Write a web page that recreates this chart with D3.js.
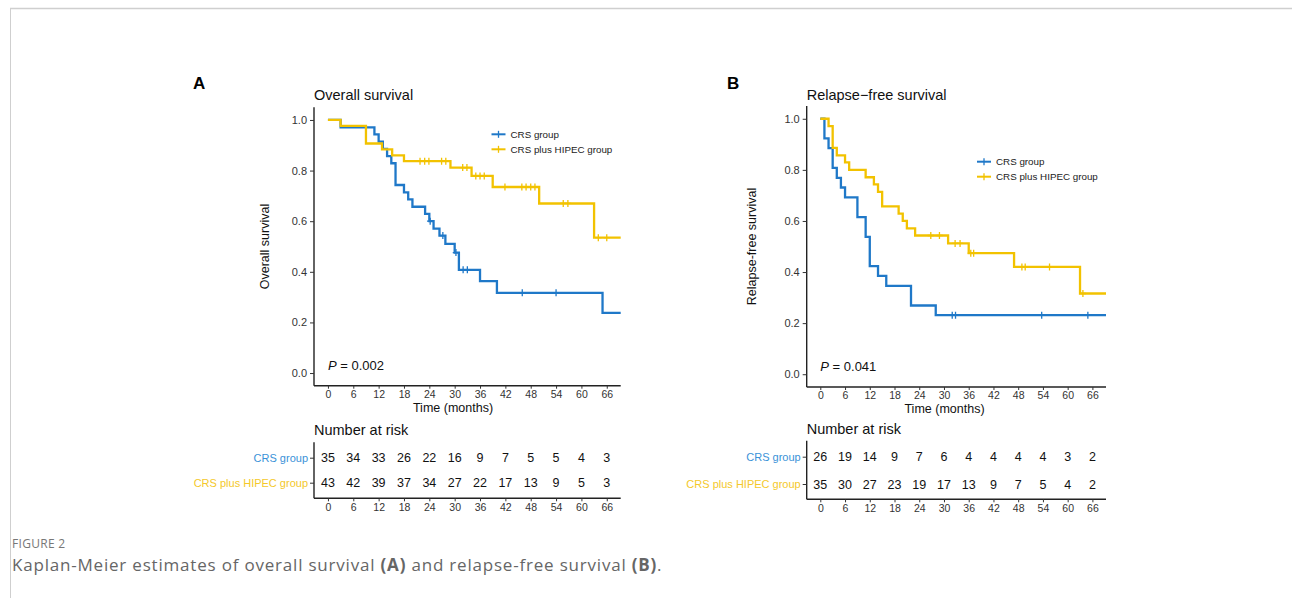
<!DOCTYPE html>
<html>
<head>
<meta charset="utf-8">
<script src="https://cdn.jsdelivr.net/npm/d3@7"></script>
<style>
  html, body { margin: 0; padding: 0; background: #fff; }
  svg { display: block; }
</style>
</head>
<body>
<svg id="chart" width="1292" height="598"></svg>
<script>
// ---------------- DATA ----------------
const timeTicks = [0, 6, 12, 18, 24, 30, 36, 42, 48, 54, 60, 66];
const survTicks = [0.0, 0.2, 0.4, 0.6, 0.8, 1.0];
const groupNames = ["CRS group", "CRS plus HIPEC group"];

// Panel A: overall survival
const osCrsTime = [0, 3, 11, 12, 13, 14, 15, 16, 18, 19, 20, 23, 24, 25, 26.4, 27.8, 30, 31, 36, 40, 65];
const osCrsSurv = [1.0, 0.971, 0.943, 0.914, 0.886, 0.857, 0.829, 0.743, 0.714, 0.686, 0.657, 0.629, 0.600, 0.571, 0.543, 0.510, 0.476, 0.408, 0.363, 0.317, 0.238];
const osCrsCensor = [24.2, 27.2, 30.3, 32, 33, 46, 54];

const osHipecTime = [0, 3, 9, 12.8, 15.2, 18, 29, 34, 39, 50, 63];
const osHipecSurv = [1.0, 0.977, 0.907, 0.884, 0.860, 0.837, 0.812, 0.779, 0.735, 0.670, 0.535];
const osHipecCensor = [21.8, 22.9, 23.9, 26.9, 27.9, 31.9, 32.9, 35, 36, 37, 41.9, 45.9, 46.9, 48, 49, 55.7, 56.8, 64, 66];

const osRiskCrs = [35, 34, 33, 26, 22, 16, 9, 7, 5, 5, 4, 3];
const osRiskHipec = [43, 42, 39, 37, 34, 27, 22, 17, 13, 9, 5, 3];

// Panel B: relapse-free survival
const rfsCrsTime = [0, 1, 2, 3, 4, 5, 6, 9, 11, 12, 14, 16, 22, 28];
const rfsCrsSurv = [1.0, 0.923, 0.885, 0.808, 0.769, 0.731, 0.692, 0.615, 0.538, 0.423, 0.385, 0.346, 0.269, 0.231];
const rfsCrsCensor = [32, 32.8, 53.7, 64.9];

const rfsHipecTime = [0, 2, 3, 4, 6, 7, 11, 13, 14, 15, 19, 20, 21, 23, 31, 36, 47, 63];
const rfsHipecSurv = [1.0, 0.971, 0.886, 0.857, 0.829, 0.800, 0.771, 0.743, 0.714, 0.657, 0.629, 0.600, 0.571, 0.543, 0.512, 0.474, 0.420, 0.316];
const rfsHipecCensor = [26.8, 28.9, 32.7, 33.9, 36.5, 37.2, 48.9, 49.7, 55.6, 63.7];

const rfsRiskCrs = [26, 19, 14, 9, 7, 6, 4, 4, 4, 4, 3, 2];
const rfsRiskHipec = [35, 30, 27, 23, 19, 17, 13, 9, 7, 5, 4, 2];

// ---------------- STYLE ----------------
const colors = ["#1f78c8", "#f2c200"];
const labelColors = ["#3a92d8", "#f4c82a"];
const FONT = "'Liberation Sans', Arial, sans-serif";
const xDomain = [-3.3, 69.3];
const yDomain = [-0.05, 1.05];

const svg = d3.select("#chart");

// frame
svg.append("line").attr("x1", 10).attr("x2", 1292).attr("y1", 8.5).attr("y2", 8.5)
  .attr("stroke", "#cfcfcf").attr("stroke-width", 1.5);
svg.append("line").attr("x1", 10.5).attr("x2", 10.5).attr("y1", 8).attr("y2", 598)
  .attr("stroke", "#cfcfcf").attr("stroke-width", 1);

function survAt(times, survs, t) {
  let s = survs[0];
  for (let i = 0; i < times.length; i++) { if (times[i] <= t) s = survs[i]; }
  return s;
}

function drawPanel(cfg) {
  const g = svg.append("g").attr("font-family", FONT);
  const x = d3.scaleLinear().domain(xDomain).range([cfg.left, cfg.right]);
  const y = d3.scaleLinear().domain(yDomain).range([cfg.bottom, cfg.top]);

  // panel letter
  g.append("text").attr("x", cfg.letterX).attr("y", 89).text(cfg.letter)
    .attr("font-size", 17).attr("font-weight", "bold").attr("fill", "#000");
  // title
  g.append("text").attr("x", cfg.left).attr("y", 100).text(cfg.title)
    .attr("font-size", 14.5).attr("fill", "#111");

  // curves
  const line = d3.line().x(d => x(d[0])).y(d => y(d[1])).curve(d3.curveStepAfter);
  cfg.series.forEach((s, i) => {
    const pts = s.time.map((t, k) => [t, s.surv[k]]);
    pts.push([xDomain[1], s.surv[s.surv.length - 1]]);
    g.append("path").datum(pts).attr("d", line).attr("fill", "none")
      .attr("stroke", colors[i]).attr("stroke-width", 2.3).attr("stroke-linejoin", "miter");
    s.censor.forEach(c => {
      const cx = x(c), cy = y(survAt(s.time, s.surv, c));
      g.append("path").attr("d", `M${cx - 3.2},${cy}H${cx + 3.2}M${cx},${cy - 3.5}V${cy + 3.5}`)
        .attr("stroke", colors[i]).attr("stroke-width", 1.3);
    });
  });

  // axes
  const yAxis = d3.axisLeft(y).tickValues(survTicks).tickFormat(d3.format(".1f")).tickSize(4).tickPadding(3);
  const ya = g.append("g").attr("transform", `translate(${cfg.left},0)`).call(yAxis);
  const xAxis = d3.axisBottom(x).tickValues(timeTicks).tickSize(3).tickPadding(1.5);
  const xa = g.append("g").attr("transform", `translate(0,${cfg.bottom})`).call(xAxis);
  [ya, xa].forEach(a => {
    a.select(".domain").attr("stroke", "#222").attr("stroke-width", 1.4)
      .attr("d", a === ya ? `M0,${cfg.top}V${cfg.bottom}` : `M${cfg.left},0H${cfg.right}`);
    a.selectAll(".tick line").attr("stroke", "#333");
    a.selectAll(".tick text").attr("font-size", 11).attr("fill", "#333").attr("font-family", FONT);
  });
  xa.selectAll(".tick text").attr("font-size", 10.5);

  // axis titles
  g.append("text").attr("x", cfg.xTitleX).attr("y", cfg.bottom + 26).attr("text-anchor", "middle")
    .attr("font-size", 12.5).attr("fill", "#111").text("Time (months)");
  g.append("text").attr("transform", `translate(${cfg.yTitleX},${(cfg.top + cfg.bottom) / 2}) rotate(-90)`)
    .attr("text-anchor", "middle").attr("font-size", 12.5).attr("fill", "#111").text(cfg.yTitle);

  // p-value
  const pt = g.append("text").attr("x", x(0)).attr("y", y(0) - 3.5)
    .attr("font-size", 13).attr("fill", "#111");
  pt.append("tspan").attr("font-style", "italic").text("P");
  pt.append("tspan").text(" = " + cfg.p);

  // legend
  groupNames.forEach((n, i) => {
    const ly = cfg.legendY + i * 15;
    g.append("line").attr("x1", cfg.legendX).attr("x2", cfg.legendX + 14).attr("y1", ly).attr("y2", ly)
      .attr("stroke", colors[i]).attr("stroke-width", 2);
    g.append("path").attr("d", `M${cfg.legendX + 7},${ly - 3.5}V${ly + 3.5}`)
      .attr("stroke", colors[i]).attr("stroke-width", 1.3);
    g.append("text").attr("x", cfg.legendX + 19).attr("y", ly + 3.5).attr("font-size", 9.8)
      .attr("fill", "#222").text(n);
  });

  // risk table
  const rt = cfg.risk;
  g.append("text").attr("x", cfg.left).attr("y", rt.titleY + 5).attr("font-size", 14.5)
    .attr("fill", "#111").text("Number at risk");
  const ry = d3.scalePoint().domain(groupNames).range([rt.row1, rt.row2]);
  const ra = g.append("g").attr("transform", `translate(${cfg.left},0)`)
    .call(d3.axisLeft(ry).tickSize(4).tickPadding(2));
  ra.select(".domain").attr("stroke", "#222").attr("stroke-width", 1.4).attr("d", `M0,${rt.top}V${rt.bottom}`);
  ra.selectAll(".tick line").attr("stroke", "#333");
  ra.selectAll(".tick text").attr("font-size", 11).attr("font-family", FONT)
    .attr("fill", (d, i) => labelColors[i]);
  const rxa = g.append("g").attr("transform", `translate(0,${rt.bottom})`)
    .call(d3.axisBottom(x).tickValues(timeTicks).tickSize(3).tickPadding(2.5));
  rxa.select(".domain").attr("stroke", "#222").attr("stroke-width", 1.4).attr("d", `M${cfg.left},0H${cfg.right}`);
  rxa.selectAll(".tick line").attr("stroke", "#333");
  rxa.selectAll(".tick text").attr("font-size", 10.5).attr("fill", "#333").attr("font-family", FONT);
  rt.values.forEach((vals, i) => {
    g.append("g").selectAll("text").data(vals).join("text")
      .attr("x", (d, k) => x(timeTicks[k])).attr("y", ry(groupNames[i]) + 4.5)
      .attr("text-anchor", "middle").attr("font-size", 12.5).attr("fill", "#111").text(d => d);
  });
}

drawPanel({
  letter: "A", letterX: 193, title: "Overall survival", yTitle: "Overall survival",
  left: 314, right: 620.7, top: 107.3, bottom: 385.7,
  xTitleX: 453, yTitleX: 269, p: "0.002", legendX: 491.5, legendY: 134.3,
  series: [
    { time: osCrsTime, surv: osCrsSurv, censor: osCrsCensor },
    { time: osHipecTime, surv: osHipecSurv, censor: osHipecCensor }
  ],
  risk: { titleY: 430, top: 442.3, bottom: 498.3, row1: 457.7, row2: 482.7, values: [osRiskCrs, osRiskHipec] }
});

drawPanel({
  letter: "B", letterX: 727, title: "Relapse\u2212free survival", yTitle: "Relapse-free survival",
  left: 806.7, right: 1106, top: 106, bottom: 387,
  xTitleX: 944.5, yTitleX: 756, p: "0.041", legendX: 977, legendY: 161.7,
  series: [
    { time: rfsCrsTime, surv: rfsCrsSurv, censor: rfsCrsCensor },
    { time: rfsHipecTime, surv: rfsHipecSurv, censor: rfsHipecCensor }
  ],
  risk: { titleY: 428.5, top: 440.7, bottom: 499.3, row1: 456.7, row2: 484, values: [rfsRiskCrs, rfsRiskHipec] }
});

// caption
const cap = svg.append("g").attr("font-family", "'Open Sans', 'Noto Sans', sans-serif");
cap.append("text").attr("x", 12).attr("y", 548).attr("font-size", 12).attr("fill", "#777")
  .attr("letter-spacing", 0.3).text("FIGURE 2");
const ct = cap.append("text").attr("x", 12).attr("y", 571).attr("font-size", 17).attr("fill", "#666")
  .attr("letter-spacing", 0.8);
ct.append("tspan").text("Kaplan-Meier estimates of overall survival ");
ct.append("tspan").attr("font-weight", "bold").text("(A)");
ct.append("tspan").text(" and relapse-free survival ");
ct.append("tspan").attr("font-weight", "bold").text("(B)");
ct.append("tspan").text(".");
</script>
</body>
</html>
